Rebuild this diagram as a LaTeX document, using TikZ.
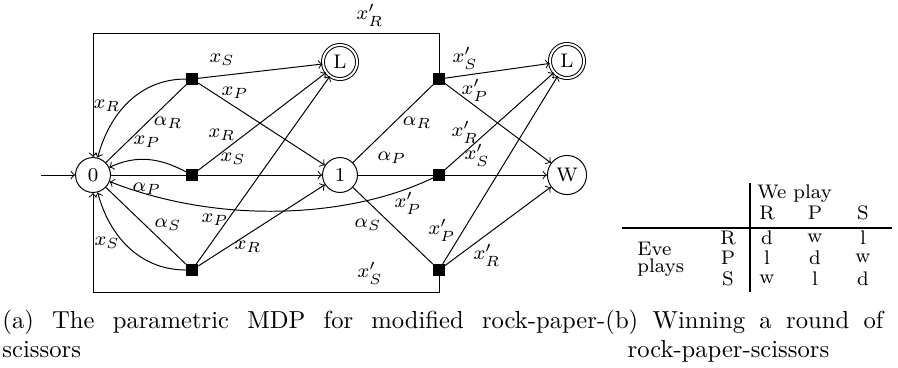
\documentclass[tikz,border=0pt]{standalone}
\usetikzlibrary{arrows}
\begin{document}
\begin{tikzpicture}[x=0.4065pt,y=0.4065pt,>=to,
  every node/.style={font=\footnotesize},
  st/.style={draw,circle,minimum size=14.2pt,inner sep=0pt},
  acc/.style={draw,circle,double,double distance=0.8pt,minimum size=13.85pt,inner sep=0pt},
  sq/.style={fill,rectangle,minimum size=4.5pt,inner sep=0pt},
  lbl/.style={inner sep=0pt},
  tb/.style={inner sep=0pt},
  captxt/.style={anchor=base west,inner sep=0pt,font=\normalsize},
  tabrule/.style={line width=1.1pt}]
\useasboundingbox (0,0) rectangle (898,-367);
% states
\node[st] (s0) at (93,-175) {0};
\node[st] (s1) at (340,-175) {1};
\node[acc] (L1) at (340,-62) {L};
\node[acc] (L2) at (567,-61) {L};
\node[st,minimum size=15.9pt] (W) at (567,-175) {W};
\node[sq] (A) at (192,-79) {};
\node[sq] (B) at (192,-175) {};
\node[sq] (C) at (192,-270) {};
\node[sq] (D) at (439,-79) {};
\node[sq] (E) at (439,-175) {};
\node[sq] (F) at (439,-270) {};
\coordinate (init) at (41,-175);
\coordinate (tr) at (439,-33);
\coordinate (tl) at (93,-33);
\coordinate (br) at (439,-292);
\coordinate (bl) at (93,-292);
\draw[->] (init) -- (s0);
% from state 0
\draw (s0) -- (A) node[lbl] at (168,-123) {$\alpha_R$};
\draw (s0) -- (B) node[lbl] at (147,-189) {$\alpha_P$};
\draw (s0) -- (C) node[lbl] at (168,-225) {$\alpha_S$};
% Eve plays R (left)
\draw[->] (A) -- (L1) node[lbl] at (222,-60) {$x_S$};
\draw[->] (A) -- (s1) node[lbl] at (235,-93) {$x_P$};
\draw[->] (A) to[out=180,in=75] (s0) node[lbl] at (107,-106) {$x_R$};
% Eve plays P (left)
\draw[->] (B) -- (L1) node[lbl] at (222,-135) {$x_R$};
\draw[->] (B) -- (s1) node[lbl] at (233,-159) {$x_S$};
\draw[->] (B) to[out=152,in=25] (s0) node[lbl] at (147,-142) {$x_P$};
% Eve plays S (left)
\draw[->] (C) -- (L1) node[lbl] at (215,-220) {$x_P$};
\draw[->] (C) -- (s1) node[lbl] at (248,-247) {$x_R$};
\draw[->] (C) to[out=180,in=-75] (s0) node[lbl] at (107,-243) {$x_S$};
% from state 1
\draw (s1) -- (D) node[lbl] at (417,-123) {$\alpha_R$};
\draw (s1) -- (E) node[lbl] at (392,-158) {$\alpha_P$};
\draw (s1) -- (F) node[lbl] at (368,-225) {$\alpha_S$};
% Eve plays R (right)
\draw[->] (D) -- (L2) node[lbl] at (465,-58) {$x'_S$};
\draw[->] (D) -- (W) node[lbl] at (475,-90) {$x'_P$};
\draw[->] (D) -- (tr) -- (tl) -- (s0) node[lbl] at (370,-15) {$x'_R$};
% Eve plays P (right)
\draw[->] (E) -- (L2) node[lbl] at (465,-132) {$x'_R$};
\draw[->] (E) -- (W) node[lbl] at (477,-155) {$x'_S$};
\draw[->] (E) .. controls (350,-218) and (220,-225) .. (s0) node[lbl] at (408,-203) {$x'_P$};
% Eve plays S (right)
\draw[->] (F) -- (L2) node[lbl] at (442,-230) {$x'_P$};
\draw[->] (F) -- (W) node[lbl] at (487,-255) {$x'_R$};
\draw[->] (F) -- (br) -- (bl) -- (s0) node[lbl] at (370,-273) {$x'_S$};
% table
\draw[tabrule] (622,-228) -- (892,-228);
\draw[tabrule] (750,-183) -- (750,-292);
\node[tb,anchor=west] (wp) at (757,-194) {We play};
\node[tb] (hR) at (767,-213) {R};
\node[tb] (hP) at (815,-213) {P};
\node[tb] (hS) at (863,-213) {S};
\node[tb,anchor=west] (eve) at (637,-249) {Eve};
\node[tb,anchor=west] (plays) at (637,-268) {plays};
\node[tb] (rR) at (728,-238) {R};
\node[tb] (rP) at (728,-258) {P};
\node[tb] (rS) at (728,-279) {S};
\node[tb] (c11) at (767,-238) {d};
\node[tb] (c12) at (815,-238) {w};
\node[tb] (c13) at (863,-238) {l};
\node[tb] (c21) at (767,-258) {l};
\node[tb] (c22) at (815,-258) {d};
\node[tb] (c23) at (863,-258) {w};
\node[tb] (c31) at (767,-279) {w};
\node[tb] (c32) at (815,-279) {l};
\node[tb] (c33) at (863,-279) {d};
% captions
\node[captxt] (capa) at (2,-328)
  {\parbox[t]{245pt}{(a) The parametric MDP for modified rock-paper-\linebreak scissors}};
\node[captxt] (capb) at (605,-328)
  {\parbox[t]{113pt}{\hangindent=9pt\hangafter=1 (b) Winning a round of\linebreak rock-paper-scissors}};
\end{tikzpicture}
\end{document}
